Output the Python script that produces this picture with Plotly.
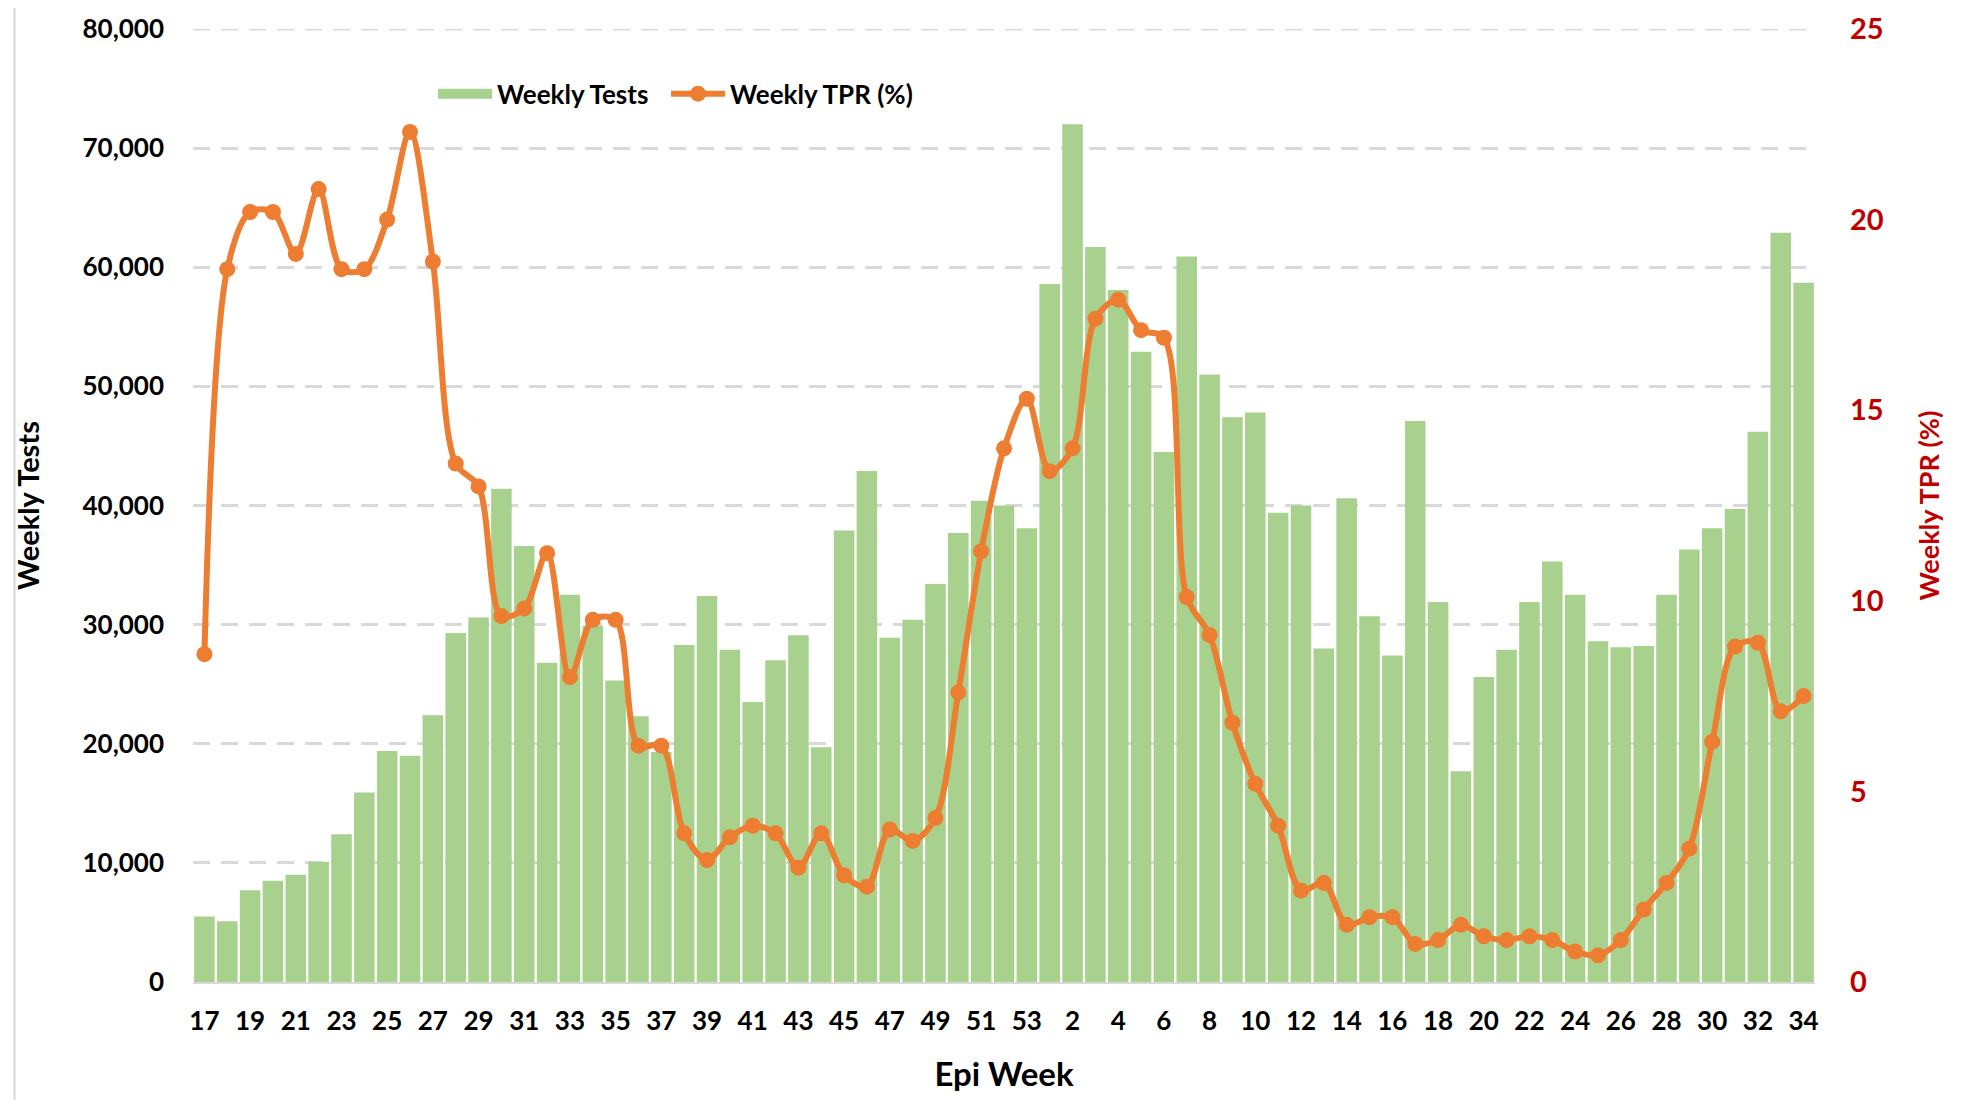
import plotly.graph_objects as go

# Epi weeks: 17..53 (2020) then 1..34 (2021)
weeks = list(range(17, 54)) + list(range(1, 35))

weekly_tests = [
    5500, 5100, 7700, 8500, 9000, 10100, 12400, 15900, 19400, 19000,
    22400, 29300, 30600, 41400, 36600, 26800, 32500, 29900, 25300, 22300,
    19300, 28300, 32400, 27900, 23500, 27000, 29100, 19700, 37900, 42900,
    28900, 30400, 33400, 37700, 40400, 40000, 38100,
    58600, 72000, 61700, 58100, 52900, 44500, 60900, 51000, 47400, 47800,
    39400, 40000, 28000, 40600, 30700, 27400, 47100, 31900, 17700, 25600,
    27900, 31900, 35300, 32500, 28600, 28100, 28200, 32500, 36300, 38100,
    39700, 46200, 62900, 58700,
]

weekly_tpr = [
    8.6, 18.7, 20.2, 20.2, 19.1, 20.8, 18.7, 18.7, 20.0, 22.3,
    18.9, 13.6, 13.0, 9.6, 9.8, 11.25, 8.0, 9.5, 9.5, 6.2,
    6.2, 3.9, 3.2, 3.8, 4.1, 3.9, 3.0, 3.9, 2.8, 2.5,
    4.0, 3.7, 4.3, 7.6, 11.3, 14.0, 15.3,
    13.4, 14.0, 17.4, 17.9, 17.1, 16.9, 10.1, 9.1, 6.8, 5.2,
    4.1, 2.4, 2.6, 1.5, 1.7, 1.7, 1.0, 1.1, 1.5, 1.2,
    1.1, 1.2, 1.1, 0.8, 0.7, 1.1, 1.9, 2.6, 3.5, 6.3,
    8.8, 8.9, 7.1, 7.5,
]

left_ticks = [0, 10000, 20000, 30000, 40000, 50000, 60000, 70000, 80000]
right_ticks = [0, 5, 10, 15, 20, 25]

x_idx = list(range(len(weeks)))
tick_idx = x_idx[::2]
tick_txt = [str(weeks[i]) for i in tick_idx]

FONT = "Lato"
BAR_C = "#A9D18E"
LINE_C = "#ED7D31"
RED = "#C00000"
GRID_C = "#D9D9D9"
GRID_DASH = "17px,11px"
NBSP = "\u00a0"

fig = go.Figure()
fig.add_trace(go.Bar(
    x=x_idx, y=weekly_tests, name="Weekly Tests",
    marker=dict(color=BAR_C, line=dict(width=0)),
    yaxis="y", showlegend=False, legendgroup="tests",
))
# legend entry drawn as a wide rectangle like the original (trailing nbsp = item gap)
fig.add_trace(go.Scatter(
    x=[None], y=[None], name="Weekly Tests" + NBSP * 2, mode="lines",
    line=dict(color=BAR_C, width=20), legendgroup="tests", hoverinfo="skip",
))
fig.add_trace(go.Scatter(
    x=x_idx, y=weekly_tpr, name="Weekly TPR (%)",
    mode="lines+markers",
    line=dict(color=LINE_C, width=6, shape="spline", smoothing=0.9),
    marker=dict(color=LINE_C, size=16),
    yaxis="y2",
))

tickfont = dict(family=FONT, size=26, color="#000000", weight="bold")

# the page body adds an 8px offset, so margins are trimmed by 8px on top/left
fig.update_layout(
    width=1966, height=1100,
    paper_bgcolor="white", plot_bgcolor="white",
    margin=dict(l=185, r=159, t=21, b=126, autoexpand=False),
    bargap=0.1,
    showlegend=True,
    legend=dict(
        orientation="h", x=0.148, y=0.932, xanchor="left", yanchor="middle",
        font=dict(family=FONT, size=26, color="#000000", weight="bold"),
        bgcolor="rgba(0,0,0,0)", itemwidth=54, tracegroupgap=0,
    ),
    xaxis=dict(
        range=[-0.5, len(weeks) - 0.5], automargin=False,
        tickmode="array", tickvals=tick_idx, ticktext=tick_txt,
        tickfont=tickfont, ticks="", showgrid=False,
        showline=True, linecolor=GRID_C, linewidth=2,
        ticklabelstandoff=15,
        title=dict(text="Epi Week", font=dict(family=FONT, size=33, color="#000000", weight="bold"),
                   standoff=28),
        zeroline=False,
    ),
    yaxis=dict(
        range=[0, 80000], automargin=False, tickmode="array", tickvals=left_ticks,
        ticktext=[f"{v:,}" for v in left_ticks],
        tickfont=tickfont, ticks="",
        showgrid=True, gridcolor=GRID_C, gridwidth=3, griddash=GRID_DASH,
        zeroline=False, showline=False,
        ticklabelstandoff=28,
        title=dict(text="Weekly Tests", font=dict(family=FONT, size=29, color="#000000", weight="bold"),
                   standoff=34),
    ),
    yaxis2=dict(
        range=[0, 25], automargin=False, tickmode="array", tickvals=right_ticks,
        ticktext=[str(v) for v in right_ticks],
        overlaying="y", side="right",
        tickfont=dict(family=FONT, size=29, color=RED, weight="bold"), ticks="",
        showgrid=False, zeroline=False, showline=False,
        ticklabelstandoff=34,
        title=dict(text="Weekly TPR (%)", font=dict(family=FONT, size=27, color=RED, weight="bold"),
                   standoff=37),
    ),
    shapes=[
        # top gridline at 80,000 (plotly omits the grid line lying on the plot edge)
        dict(type="line", xref="paper", yref="y", x0=0, x1=1, y0=left_ticks[-1], y1=left_ticks[-1],
             line=dict(color=GRID_C, width=3, dash=GRID_DASH), layer="below"),
        dict(type="line", xref="paper", yref="paper", x0=-0.11, x1=-0.11, y0=1.024, y1=-0.13,
             line=dict(color=GRID_C, width=2)),
        dict(type="line", xref="paper", yref="paper", x0=-0.11, x1=-0.102, y0=1.024, y1=1.024,
             line=dict(color=GRID_C, width=2)),
    ],
)

fig.write_html("out.html")
